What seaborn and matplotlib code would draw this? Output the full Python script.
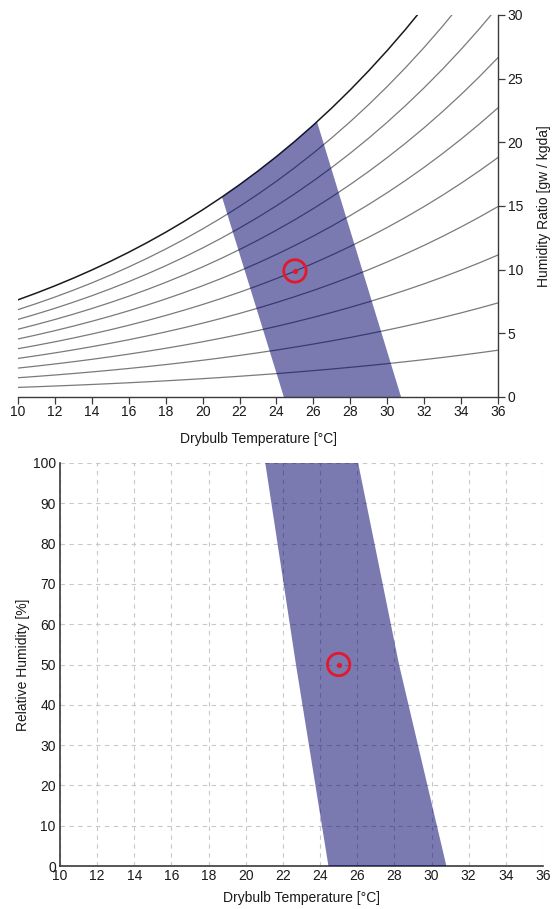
import numpy as np
import pandas as pd
import matplotlib
matplotlib.use('Agg')
import matplotlib.pyplot as plt
import seaborn as sns

sns.set_theme(style='white')
plt.rcParams['font.family'] = ['Liberation Sans', 'DejaVu Sans']

# --- data ---
# saturation vapour pressure table [kPa] at drybulb temperature [C]
temps = list(range(10, 37))
p_sat = [1.2282, 1.3130, 1.4028, 1.4981, 1.5990, 1.7058, 1.8188, 1.9384, 2.0647,
         2.1983, 2.3393, 2.4882, 2.6453, 2.8111, 2.9858, 3.1699, 3.3639, 3.5681,
         3.7831, 4.0092, 4.2470, 4.4969, 4.7596, 5.0354, 5.3251, 5.6290, 5.9479]
rh_levels = [10, 20, 30, 40, 50, 60, 70, 80, 90, 100]
p_atm = 101.325

# comfort zone (T, humidity ratio)
zone_left_T = [24.4, 21.05]
zone_left_W = [0.0, 15.7]
zone_right_T = [30.75, 26.2]
zone_right_W = [0.0, 21.6]

# comfort zone
zone_rh = [0, 50, 100]
zone_rh_left_T = [24.45, 22.7, 21.05]
zone_rh_right_T = [30.8, 28.25, 26.05]

# current point
point_T = [25.0]
point_W = [9.9]
point_RH = [50.0]

xticks = list(range(10, 37, 2))

# humidity ratio curves
rows = []
for rh in rh_levels:
    for t, p in zip(temps, p_sat):
        pv = rh / 100 * p
        rows.append({'T': t, 'W': 622 * pv / (p_atm - pv), 'RH': rh})
curves = pd.DataFrame(rows)
sat = curves[curves['RH'] == 100].set_index('T')['W']

fig = plt.figure(figsize=(5.53, 9.09), dpi=100)
ax1 = fig.add_axes([18 / 553, 1 - 397 / 909, 480 / 553, 382 / 909])
ax2 = fig.add_axes([60 / 553, 1 - 866 / 909, 483 / 553, 403 / 909])

zone_col = (0.0, 0.0, 0.42)
zone_alpha = 0.52
ring_col = '#e4172b'
spine_col = '#3a3a3a'
text_col = '#1a1a1a'

# ---------------- top: psychrometric chart ----------------
palette = {rh: ('#1a1a1a' if rh == 100 else '#7a7a7a') for rh in rh_levels}
sizes = {rh: (1.1 if rh == 100 else 0.9) for rh in rh_levels}
sns.lineplot(data=curves, x='T', y='W', hue='RH', size='RH', units='RH',
             estimator=None, palette=palette, sizes=sizes, legend=False,
             sort=False, ax=ax1, zorder=2)

mid_T = [t for t in temps if zone_left_T[1] < t < zone_right_T[1]]
poly_x = [zone_left_T[0], zone_right_T[0], zone_right_T[1]] + mid_T[::-1] + [zone_left_T[1]]
poly_y = [zone_left_W[0], zone_right_W[0], zone_right_W[1]] + [sat[t] for t in mid_T[::-1]] + [zone_left_W[1]]
ax1.fill(poly_x, poly_y, color=zone_col, alpha=zone_alpha, lw=0, zorder=3)

sns.scatterplot(x=point_T, y=point_W, s=260, facecolor='none', edgecolor=ring_col,
                linewidth=2, ax=ax1, zorder=5)
sns.scatterplot(x=point_T, y=point_W, s=14, color=ring_col, linewidth=0, ax=ax1, zorder=6)

ax1.set_xlim(10, 36)
ax1.set_ylim(0, 30)
ax1.set_xticks(xticks)
ax1.set_yticks(range(0, 31, 5))
ax1.yaxis.tick_right()
ax1.yaxis.set_label_position('right')
for s in ['top', 'left']:
    ax1.spines[s].set_visible(False)
for s in ['right', 'bottom']:
    ax1.spines[s].set_color(spine_col)
    ax1.spines[s].set_linewidth(1.0)
ax1.tick_params(axis='both', direction='out', length=5, width=0.9, color=spine_col,
                labelsize=10, labelcolor=text_col, pad=1)
ax1.tick_params(axis='x', bottom=True)
ax1.tick_params(axis='y', right=True, left=False, pad=2)
ax1.set_xlabel('Drybulb Temperature [°C]', fontsize=10, color=text_col, labelpad=9)
ax1.set_ylabel('Humidity Ratio [gw / kgda]', fontsize=10, color=text_col, labelpad=10)

# ---------------- bottom: relative humidity chart ----------------
rh_poly_x = zone_rh_left_T + zone_rh_right_T[::-1]
rh_poly_y = zone_rh + zone_rh[::-1]
ax2.set_axisbelow(True)
ax2.grid(True, color='#c8c8c8', linestyle=(0, (4, 4)), linewidth=0.8)
ax2.fill(rh_poly_x, rh_poly_y, color=zone_col, alpha=zone_alpha, lw=0, zorder=3)

sns.scatterplot(x=point_T, y=point_RH, s=260, facecolor='none', edgecolor=ring_col,
                linewidth=2, ax=ax2, zorder=5)
sns.scatterplot(x=point_T, y=point_RH, s=14, color=ring_col, linewidth=0, ax=ax2, zorder=6)

ax2.set_xlim(10, 36)
ax2.set_ylim(0, 100)
ax2.set_xticks(xticks)
ax2.set_yticks(range(0, 101, 10))
for s in ['top', 'right']:
    ax2.spines[s].set_visible(False)
for s in ['left', 'bottom']:
    ax2.spines[s].set_color(spine_col)
    ax2.spines[s].set_linewidth(1.2)
ax2.tick_params(axis='both', length=0, labelsize=10, labelcolor=text_col, pad=3)
ax2.tick_params(axis='x', pad=2)
ax2.set_xlabel('Drybulb Temperature [°C]', fontsize=10, color=text_col, labelpad=6)
ax2.set_ylabel('Relative Humidity [%]', fontsize=10, color=text_col, labelpad=2)

fig.savefig('out.png', dpi=100)
